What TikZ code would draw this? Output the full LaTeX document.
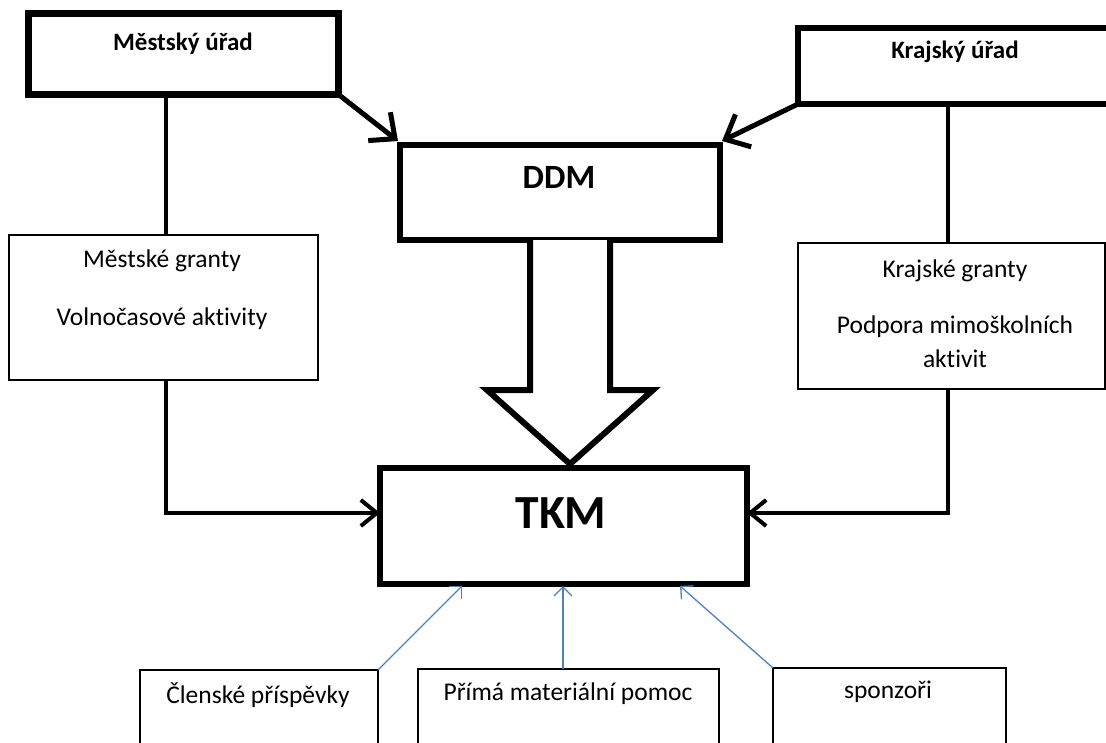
\documentclass[tikz,border=0pt]{standalone}
\usepackage{fontspec}
\setmainfont{Carlito}[Ligatures=NoCommon]
\usetikzlibrary{arrows.meta}
\definecolor{offblue}{RGB}{79,129,189}
\begin{document}
\begin{tikzpicture}[x=1pt,y=-1pt,
  bigbox/.style={draw, line width=6.5pt, inner sep=0pt, outer sep=0pt},
  thinbox/.style={draw, line width=1.3pt, inner sep=0pt, outer sep=0pt},
  lbl/.style={anchor=base, inner sep=0pt, font=\fontsize{25.5}{30}\selectfont},
  hdr/.style={anchor=base, inner sep=0pt, font=\fontsize{25}{30}\selectfont\bfseries},
  conn/.style={line width=4pt},
  thickarr/.style={line width=5pt, -{Straight Barb[length=20pt,width=36pt,line width=5pt]}},
  sidearr/.style={line width=4pt, -{Straight Barb[length=16pt,width=26pt,line width=4pt]}},
  bluearr/.style={draw=offblue, line width=1.3pt, -{Straight Barb[length=9pt,width=18pt,line width=1.3pt]}}]
\useasboundingbox (0,0) rectangle (1106,742);
\fill[white] (0,0) rectangle (1106,742);
\clip (0,0) rectangle (1106,742);

% boxes
\node[bigbox, minimum width=310pt, minimum height=81pt] (mu) at (183.5,54) {};
\node[bigbox, minimum width=317pt, minimum height=76pt] (ku) at (956.5,66) {};
\node[bigbox, minimum width=320pt, minimum height=95pt] (ddm) at (560,192.5) {};
\node[bigbox, minimum width=367pt, minimum height=116pt] (tkm) at (563.5,526) {};
\node[thinbox, minimum width=309pt, minimum height=145pt] (mg) at (163.5,307.5) {};
\node[thinbox, minimum width=307pt, minimum height=146pt] (kg) at (951.5,316) {};
\node[thinbox, minimum width=238pt, minimum height=110pt] (cp) at (259,725) {};
\node[thinbox, minimum width=301pt, minimum height=111pt] (pm) at (568.5,724.5) {};
\node[thinbox, minimum width=233pt, minimum height=112pt] (sp) at (889.5,724) {};

% texts
\node[hdr] (tmu) at (183,50) {Městský úřad};
\node[hdr] (tku) at (955,58) {Krajský úřad};
\node[anchor=base, inner sep=0pt, font=\fontsize{34}{40}\selectfont\bfseries] (tddm) at (559,188) {DDM};
\node[anchor=base, inner sep=0pt, font=\fontsize{47.5}{56}\selectfont\bfseries] (ttkm) at (561,528) {TKM};
\node[lbl] (tmg1) at (162,267) {Městské granty};
\node[lbl] (tmg2) at (162,325) {Volnočasové aktivity};
\node[lbl] (tkg1) at (955,277) {Krajské granty};
\node[lbl] (tkg2) at (955,333) {Podpora mimoškolních};
\node[lbl] (tkg3) at (955,367) {aktivit};
\node[lbl] (tcp) at (258,703) {Členské příspěvky};
\node[lbl] (tpm) at (568,700) {Přímá materiální pomoc};
\node[lbl] (tsp) at (888,698) {sponzoři};

% helper coordinates
\coordinate (mux) at (166,0);
\coordinate (kux) at (948,0);
\coordinate (ly) at (0,513);
\coordinate (b1) at (462,586);
\coordinate (b2) at (563,586);
\coordinate (b3) at (680,586);
\coordinate (p2) at (563,0);
\coordinate (dnw) at (398,141);
\coordinate (dne) at (722,141);

% connectors
\draw[thickarr] (mu.south east) -- (dnw);
\draw[thickarr] (ku.south west) -- (dne);
\draw[conn] (mu.south -| mux) -- (mg.north -| mux);
\draw[conn] (ku.south -| kux) -- (kg.north -| kux);
\draw[sidearr] (mg.south -| mux) |- (tkm.west |- ly);
\draw[sidearr] (kg.south -| kux) |- (tkm.east |- ly);

% hollow arrow DDM -> TKM
\draw[line width=6pt, line join=miter, fill=white]
  (530,240) -- (530,390) -- (487,390) -- (570,464) -- (653,390) -- (610,390) -- (610,240);

% blue arrows
\draw[bluearr] (cp.north east) -- (b1);
\draw[bluearr] (pm.north -| p2) -- (b2);
\draw[bluearr] (sp.north west) -- (b3);
\end{tikzpicture}
\end{document}
